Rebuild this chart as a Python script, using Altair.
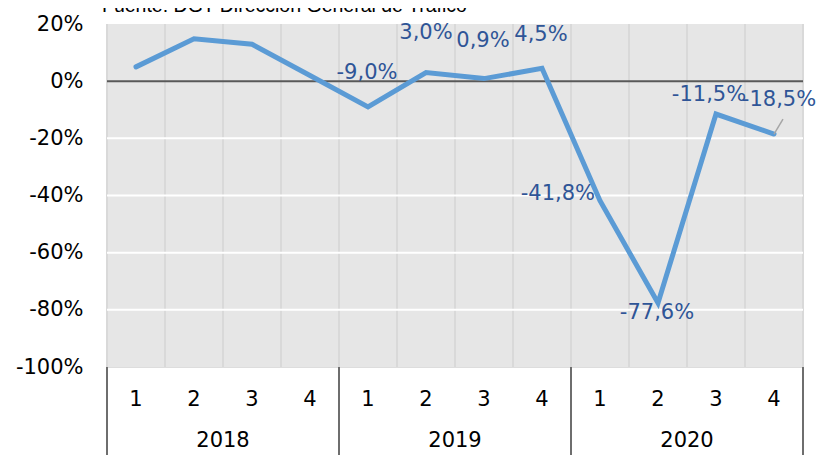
import altair as alt
import pandas as pd

# ---- data ----
years = ["2018", "2019", "2020"]
quarters = ["1", "2", "3", "4", "1", "2", "3", "4", "1", "2", "3", "4"]
values = [5.0, 14.8, 12.9, 2.0, -9.0, 3.0, 0.9, 4.5, -41.8, -77.6, -11.5, -18.5]
labels = ["", "", "", "", "-9,0%", "3,0%", "0,9%", "4,5%", "-41,8%", "-77,6%", "-11,5%", "-18,5%"]
y_ticks = [20, 0, -20, -40, -60, -80, -100]
source = "Fuente: DGT Dirección General de Tráfico"

W, H = 696, 343
n = len(values)

df = pd.DataFrame({
    "idx": list(range(n)),
    "pos": [i + 0.5 for i in range(n)],
    "q": quarters,
    "value": values,
    "label": labels,
})
bounds = pd.DataFrame({"b": list(range(n + 1))})
year_bounds = pd.DataFrame({"b": list(range(0, n + 1, 4))})
year_df = pd.DataFrame({"year": years, "c": [2 + 4 * k for k in range(len(years))]})
hgrid = pd.DataFrame({"v": [t for t in y_ticks if t not in (0, 20, -100)]})

xs = alt.Scale(domain=[0, n], nice=False, zero=False)
ys = alt.Scale(domain=[-100, 20], nice=False, zero=False)

FONT = "DejaVu Sans"
LBL = "#2f5597"

yaxis = alt.Axis(
    values=y_ticks, labelExpr="datum.value + '%'", grid=False, ticks=False,
    domain=False, labelFontSize=21, labelPadding=24, labelColor="black",
    labelFont=FONT, title=None)

bg = alt.Chart(pd.DataFrame({"a": [0]})).mark_rect(color="#e6e6e6").encode(
    x=alt.value(0), x2=alt.value(W), y=alt.value(0), y2=alt.value(H),
)

vgrid = alt.Chart(bounds).mark_rule(color="#d9d9d9", strokeWidth=2).encode(
    x=alt.X("b:Q", scale=xs, axis=None),
    y=alt.value(0), y2=alt.value(H),
)

hg = alt.Chart(hgrid).mark_rule(color="white", strokeWidth=2).encode(
    y=alt.Y("v:Q", scale=ys, axis=yaxis),
    x=alt.value(0), x2=alt.value(W),
)

zero = alt.Chart(pd.DataFrame({"v": [0]})).mark_rule(color="#595959", strokeWidth=2).encode(
    y=alt.Y("v:Q", scale=ys, axis=yaxis),
    x=alt.value(0), x2=alt.value(W),
)

ysep = alt.Chart(year_bounds).mark_rule(color="#6e6e6e", strokeWidth=2).encode(
    x=alt.X("b:Q", scale=xs, axis=None),
    y=alt.value(H), y2=alt.value(H + 100),
)

line = alt.Chart(df).mark_line(color="#5b9bd5", strokeWidth=5, strokeCap="round").encode(
    x=alt.X("pos:Q", scale=xs, axis=None),
    y=alt.Y("value:Q", scale=ys, axis=yaxis),
    order="idx:Q",
)

qlabels = alt.Chart(df).mark_text(fontSize=21, font=FONT, color="black", baseline="middle").encode(
    x=alt.X("pos:Q", scale=xs, axis=None),
    y=alt.value(H + 33),
    text="q:N",
)

ylabels = alt.Chart(year_df).mark_text(fontSize=21, font=FONT, color="black", baseline="middle").encode(
    x=alt.X("c:Q", scale=xs, axis=None),
    y=alt.value(H + 74),
    text="year:N",
)

# label placement (style): index -> (dx, dy, align)
placement = {
    4: (-1, -34, "center"),
    5: (0, -40, "center"),
    6: (-1, -38, "center"),
    7: (-1, -33, "center"),
    8: (-5, -7, "right"),
    9: (-1, 10, "center"),
    10: (-7, -19, "center"),
    11: (5, -34, "center"),
}

label_layers = []
for i, (dx, dy, al) in placement.items():
    label_layers.append(
        alt.Chart(df).transform_filter(alt.datum.idx == i)
        .mark_text(fontSize=21, font=FONT, color=LBL, dx=dx, dy=dy, align=al, baseline="middle")
        .encode(x=alt.X("pos:Q", scale=xs, axis=None),
                y=alt.Y("value:Q", scale=ys, axis=yaxis), text="label:N")
    )

leader = alt.Chart(df).transform_filter(alt.datum.idx == n - 1).mark_rule(
    color="#a6a6a6", strokeWidth=1.5, x2Offset=9, y2Offset=-15
).encode(
    x=alt.X("pos:Q", scale=xs, axis=None), y=alt.Y("value:Q", scale=ys, axis=yaxis),
    x2="pos:Q", y2="value:Q",
)

src = alt.Chart(pd.DataFrame({"t": [source]})).mark_text(
    fontSize=19.5, font="Liberation Sans", color="black", align="left", baseline="alphabetic"
).encode(x=alt.value(-5), y=alt.value(-12), text="t:N")

chart = alt.layer(
    bg, vgrid, hg, zero, ysep, line, leader, *label_layers, qlabels, ylabels, src
).properties(
    width=W, height=H,
    autosize=alt.AutoSizeParams(type="none"),
    padding={"left": 99, "top": 16, "right": 14, "bottom": 88},
).configure_view(stroke=None).configure(font=FONT)

chart.save("out.html", embed_options={"renderer": "svg", "actions": False})
